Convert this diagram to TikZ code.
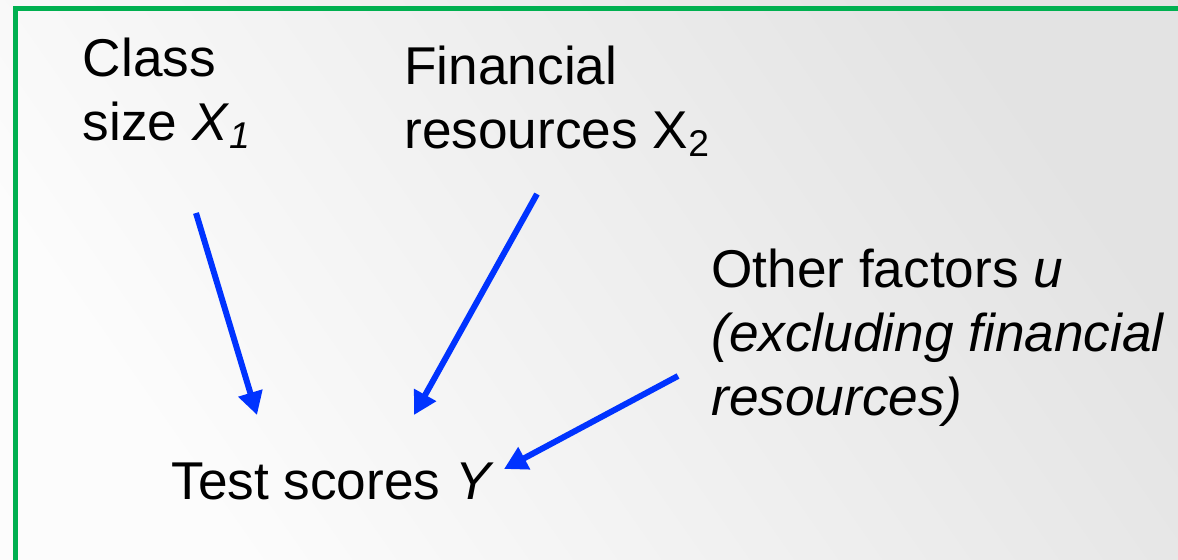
\documentclass[tikz,border=0pt]{standalone}
\usepackage{fontspec}
\setmainfont{Liberation Sans}
\usetikzlibrary{arrows.meta}

\definecolor{frameGreen}{HTML}{00B050}
\definecolor{arrowBlue}{HTML}{0033FF}

\tikzset{
  varlabel/.style={anchor=base west, inner sep=0pt, align=left,
    font=\fontsize{26.6}{32}\selectfont},
  effect/.style={arrowBlue, line width=3pt,
    -{Triangle[length=11.5pt,width=12pt]}},
}

\begin{document}
\begin{tikzpicture}[x=0.5pt, y=-0.5pt]
  \useasboundingbox (0,0) rectangle (1178,559);
  \clip (0,0) rectangle (1178,559);
  % background and frame
  \shade[top color=black!11, middle color=black!3, bottom color=black!1,
    shading angle=-55] (0,0) rectangle (1178,559);
  \draw[frameGreen, line width=2.5pt] (15.5,8.5) rectangle (1200,590);

  % variables (anchored on the baseline of the last line)
  \node[varlabel] (classsize) at (82.5,140)
    {Class\\size \textit{X}\textsubscript{\textit{1}}};
  \node[varlabel] (finance) at (404,148)
    {Financial\\resources X\textsubscript{2}};
  \node[varlabel] (other) at (711,415)
    {Other factors \textit{u}\\\textit{(excluding financial}\\\textit{resources)}};
  \node[varlabel] (score) at (171,499) {Test scores \textit{Y}};

  % arrow ends
  \coordinate (x1 from) at (196,213);
  \coordinate (x1 to)   at (257,415);
  \coordinate (x2 from) at (537,194);
  \coordinate (x2 to)   at (414,415);
  \coordinate (u from)  at (678,376);
  \coordinate (u to)    at (504,469);

  \draw[effect] (x1 from) -- (x1 to);
  \draw[effect] (x2 from) -- (x2 to);
  \draw[effect] (u from) -- (u to);
\end{tikzpicture}
\end{document}
